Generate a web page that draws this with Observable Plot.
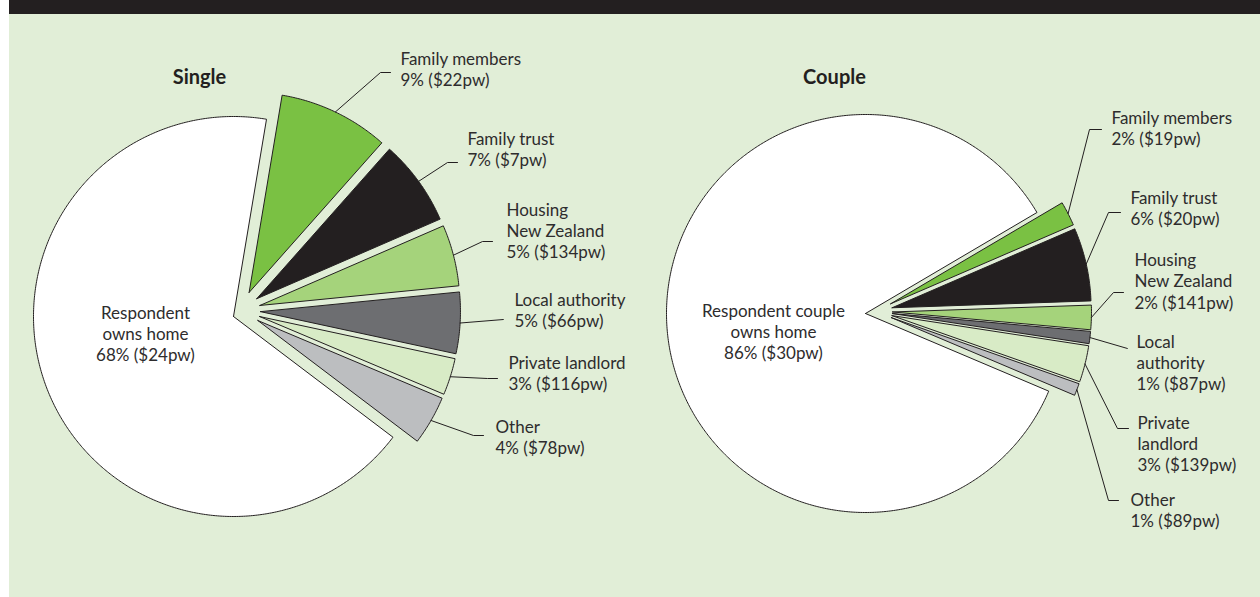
<!DOCTYPE html>
<html><head><meta charset="utf-8">
<script src="https://cdn.jsdelivr.net/npm/d3@7"></script>
<script src="https://cdn.jsdelivr.net/npm/@observablehq/plot@0.6"></script>
<style>
html,body{margin:0;padding:0;background:#fff;}
#wrap{margin-left:9px;width:1251px;}
#topbar{height:14px;background:#231f20;}
#chart svg{display:block;}
</style></head><body>
<div id="wrap"><div id="topbar"></div><div id="chart"></div></div>
<script>
// ---- data ----
const categories = ["Respondent owns home", "Family members", "Family trust", "Housing New Zealand", "Local authority", "Private landlord", "Other"];
const singleLabels = ["Respondent\nowns home", "Family members", "Family trust", "Housing\nNew Zealand", "Local authority", "Private landlord", "Other"];
const coupleLabels = ["Respondent couple\nowns home", "Family members", "Family trust", "Housing\nNew Zealand", "Local\nauthority", "Private\nlandlord", "Other"];
const singleShare = [68, 9, 7, 5, 5, 3, 4];
const singleWeekly = [24, 22, 7, 134, 66, 116, 78];
const coupleShare = [86, 2, 6, 2, 1, 3, 1];
const coupleWeekly = [30, 19, 20, 141, 87, 139, 89];
const panelTitles = ["Single", "Couple"];
const sliceColors = ["#ffffff", "#7ac143", "#231f20", "#a5d37b", "#6d6e71", "#d8ebc6", "#bcbec0"];

// ---- layout (page pixel coordinates) ----
const FS = 17, LH = 21.4, INK = "#231f20", TEXT = "#2e2c2d";
// callout: [elbowX, elbowY, endX, textX, firstBaseline]
const singleCallouts = [[380,72,390,400,64.5],[447,162,457,467,144.5],[482,241,492,506,215],[503,319,503,514,305],[487,378,497,508,368],[473,435,483,495,432]];
const coupleCallouts = [[1089,129,1101,1111,123.5],[1108,212,1120,1130,203.5],[1113,292,1123,1134,265.5],[1127,348,1127,1136,347],[1117,428,1128,1137,428],[1108,500,1118,1130,505.5]];
const panels = [
  {title: panelTitles[0], labels: singleLabels, share: singleShare, weekly: singleWeekly, cx: 233, cy: 316, r: 200, start: 9.5, shift: [7, -6], explode: 20, titlePos: [199, 83], ownerPos: [145, 318], callouts: singleCallouts},
  {title: panelTitles[1], labels: coupleLabels, share: coupleShare, weekly: coupleWeekly, cx: 865, cy: 313, r: 199, start: 59.5, shift: [10, -2], explode: 17, titlePos: [834, 83], ownerPos: [773, 316], callouts: coupleCallouts}
];

const deg = Math.PI / 180;
const slicePts = [], leaderPts = [], texts = [], titles = [];
panels.forEach((p, pi) => {
  titles.push({x: p.titlePos[0], y: p.titlePos[1], text: p.title});
  const total = d3.sum(p.share);
  let a = p.start;
  const order = [1, 2, 3, 4, 5, 6, 0];
  order.forEach((i) => {
    const span = p.share[i] / total * 360;
    const a0 = a, a1 = a + span; a = a1;
    const mid = (a0 + a1) / 2;
    const ux = Math.sin(mid * deg), uy = -Math.cos(mid * deg);
    const owner = i === 0;
    const ax = p.cx + (owner ? 0 : p.shift[0] + p.explode * ux);
    const ay = p.cy + (owner ? 0 : p.shift[1] + p.explode * uy);
    const key = pi + "-" + i;
    const cat = categories[i];
    slicePts.push({key, cat, x: ax, y: ay});
    const steps = Math.max(2, Math.ceil(span / 0.5));
    for (let s = 0; s <= steps; s++) {
      const t = (a0 + (a1 - a0) * s / steps) * deg;
      slicePts.push({key, cat, x: ax + p.r * Math.sin(t), y: ay - p.r * Math.cos(t)});
    }
    slicePts.push({key, cat, x: ax, y: ay});
    const label = p.labels[i] + "\n" + p.share[i] + "% ($" + p.weekly[i] + "pw)";
    const nLines = label.split("\n").length;
    if (owner) {
      texts.push({x: p.ownerPos[0], y: p.ownerPos[1] + (nLines - 1) * LH, text: label, anchor: "middle"});
    } else {
      const c = p.callouts[i - 1];
      const sx = ax + p.r * ux, sy = ay + p.r * uy;
      leaderPts.push({key, x: sx, y: sy}, {key, x: c[0], y: c[1]}, {key, x: c[2], y: c[1]});
      texts.push({x: c[3], y: c[4] + (nLines - 1) * LH, text: label, anchor: "start"});
    }
  });
});

const chart = Plot.plot({
  width: 1251, height: 583,
  marginTop: 0, marginRight: 0, marginBottom: 0, marginLeft: 0,
  x: {domain: [9, 1260], range: [0, 1251], axis: null},
  y: {domain: [14, 597], range: [0, 583], axis: null},
  color: {type: "ordinal", domain: categories, range: sliceColors},
  style: {background: "#e1eed7", fontFamily: "Lato, 'Open Sans', sans-serif", color: INK},
  marks: [
    Plot.line(slicePts, {x: "x", y: "y", z: "key", fill: "cat", stroke: INK, strokeWidth: 1, strokeLinejoin: "miter", strokeMiterlimit: 4, curve: "linear"}),
    Plot.line(leaderPts, {x: "x", y: "y", z: "key", stroke: INK, strokeWidth: 1, strokeLinejoin: "miter", curve: "linear"}),
    Plot.text(texts.filter(d => d.anchor === "start"), {x: "x", y: "y", text: "text", textAnchor: "start", lineAnchor: "bottom", lineHeight: LH / FS, fontSize: FS, fill: TEXT}),
    Plot.text(texts.filter(d => d.anchor === "middle"), {x: "x", y: "y", text: "text", textAnchor: "middle", lineAnchor: "bottom", lineHeight: LH / FS, fontSize: FS, fill: TEXT}),
    Plot.text(titles, {x: "x", y: "y", text: "text", textAnchor: "middle", lineAnchor: "bottom", fontSize: 20, fontWeight: "bold", fill: INK})
  ]
});
document.getElementById("chart").appendChild(chart);
</script>
</body></html>
